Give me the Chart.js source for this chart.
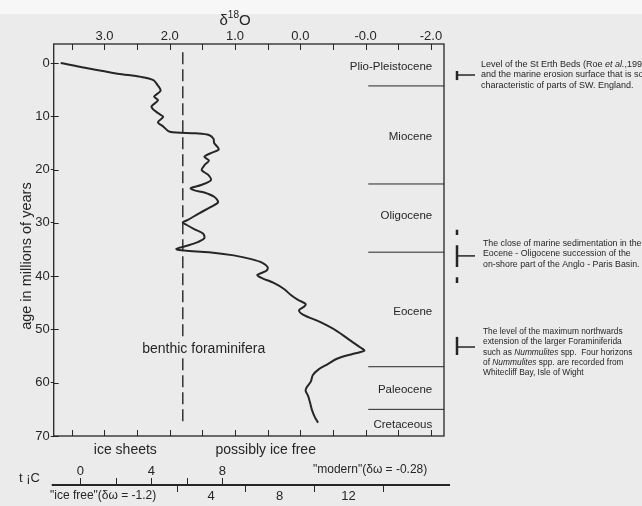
<!DOCTYPE html>
<html>
<head>
<meta charset="utf-8">
<script src="https://cdn.jsdelivr.net/npm/chart.js@4.4.1/dist/chart.umd.min.js"></script>
<style>
  html, body { margin: 0; padding: 0; background: #ebebeb; }
  #wrap { width: 642px; height: 506px; }
</style>
</head>
<body>
<div id="wrap"><canvas id="chart" width="642" height="506"></canvas></div>
<script>
// === benthic foraminifera d18O record (age in Ma, d18O per mil) ===
const ages = [0, 0.9, 2.0, 2.6, 3.2, 4.1, 5.2, 6.3, 7.0, 8.2, 9.4, 10.1, 11.1, 11.9, 12.9,
  13.2, 13.5, 14.2, 15.0, 16.2, 16.9, 17.6, 18.3, 19.2, 20.1, 21.0, 22.0, 22.9, 23.5, 23.9,
  24.3, 25.1, 26.1, 27.0, 28.2, 29.5, 29.9, 30.4, 31.2, 32.0, 32.9, 33.6, 34.3, 34.9, 35.2,
  35.5, 36.1, 36.8, 37.5, 38.3, 39.0, 39.8, 40.4, 41.3, 42.4, 43.6, 44.5, 45.2, 45.7, 46.4,
  47.2, 48.6, 50.3, 52.2, 53.4, 54.0, 54.6, 55.5, 56.5, 57.5, 58.6, 59.8, 60.8, 61.5, 62.5,
  63.8, 65.2, 66.4, 67.5];
const d18o = [3.67, 3.30, 2.80, 2.44, 2.25, 2.19, 2.14, 2.24, 2.18, 2.28, 2.18, 2.10, 2.18, 2.10, 2.00,
  1.60, 1.40, 1.33, 1.32, 1.25, 1.37, 1.47, 1.40, 1.47, 1.51, 1.41, 1.37, 1.52, 1.68, 1.62,
  1.47, 1.32, 1.26, 1.37, 1.55, 1.73, 1.80, 1.74, 1.62, 1.49, 1.47, 1.57, 1.74, 1.90, 1.78,
  1.40, 1.02, 0.75, 0.58, 0.50, 0.52, 0.66, 0.58, 0.40, 0.25, 0.14, 0.03, -0.08, -0.06, 0.02,
  -0.04, -0.30, -0.56, -0.78, -0.92, -0.98, -0.80, -0.56, -0.42, -0.28, -0.19, -0.16, -0.10, -0.08, -0.12,
  -0.15, -0.18, -0.22, -0.27];

// ice sheet threshold (dashed line)
const iceThreshold = 1.8;
const iceLineAges = [-2, 67.8];

// epochs
const epochNames = ['Plio-Pleistocene', 'Miocene', 'Oligocene', 'Eocene', 'Paleocene', 'Cretaceous'];
const epochLabelAges = [0.8, 13.9, 28.7, 46.7, 61.4, 67.9];
const epochBoundaries = [4.3, 22.7, 35.5, 57.0, 65.0];

// axis ticks
const xTickValues = [3, 2, 1, 0, -1, -2];
const xTickLabels = ['3.0', '2.0', '1.0', '0.0', '-0.0', '-2.0'];
const xMinorTicks = [3.5, 3, 2.5, 2, 1.5, 1, 0.5, 0, -0.5, -1, -1.5, -2];
const yTickValues = [0, 10, 20, 30, 40, 50, 60, 70];

// temperature scales (deg C) under the plot
const tUpperTicks = [0, 2, 4, 6, 8];
const tUpperLabels = [0, 4, 8];
const tLowerTicks = [2, 6, 10, 14];
const tLowerLabels = [4, 8, 12];
const tModernZero = 3.37;   // d18O at 0 deg C, modern ocean
const tModernSlope = 0.272; // d18O per deg C
const tIceFreeZero = 2.42;  // d18O at 0 deg C, ice free ocean
const tIceFreeSlope = 0.263;

// notes on the right
const noteAges = [2.25, 36.2, 53.3];
const noteTextAges = [2.25, 35.8, 54.3];
const noteSizes = [9, 8.8, 8.4];
const noteBars = [[[1.5, 3.2]], [[31.3, 32.3], [34.2, 38.3], [40.2, 41.3]], [[51.4, 54.8]]];
const noteLines = [
  ['Level of the St Erth Beds (Roe *et al.*,1995)', 'and the marine erosion surface that is so', 'characteristic of parts of SW. England.'],
  ['The close of marine sedimentation in the', 'Eocene - Oligocene succession of the', 'on-shore part of the Anglo - Paris Basin.'],
  ['The level of the maximum northwards', 'extension of the larger Foraminiferida', 'such as *Nummulites* spp.  Four horizons',
   'of *Nummulites* spp. are recorded from', 'Whitecliff Bay, Isle of Wight']
];

const INK = '#262626';
const FONT = '"Liberation Sans", Arial, sans-serif';

function richText(ctx, line, x, y, size) {
  let cx = x;
  line.split('*').forEach((part, i) => {
    ctx.font = (i % 2 ? 'italic ' : '') + size + 'px ' + FONT;
    ctx.fillText(part, cx, y);
    cx += ctx.measureText(part).width;
  });
}

const decor = {
  id: 'decor',
  beforeDraw(chart) {
    const { ctx, width, height } = chart;
    ctx.save();
    ctx.fillStyle = '#ebebeb';
    ctx.fillRect(0, 0, width, height);
    ctx.fillStyle = '#f7f7f7';
    ctx.fillRect(0, 0, width, 14);
    ctx.restore();
  },
  afterDraw(chart) {
    const { ctx, chartArea: a } = chart;
    const xs = chart.scales.x, ys = chart.scales.y;
    ctx.save();
    ctx.strokeStyle = INK;
    ctx.fillStyle = INK;

    // frame
    ctx.lineWidth = 1.3;
    ctx.strokeRect(a.left, a.top, a.right - a.left, a.bottom - a.top);

    // inward tick marks
    ctx.lineWidth = 1;
    ctx.beginPath();
    xMinorTicks.forEach(v => {
      const px = Math.round(xs.getPixelForValue(v)) + 0.5;
      ctx.moveTo(px, a.top); ctx.lineTo(px, a.top + 6);
      ctx.moveTo(px, a.bottom); ctx.lineTo(px, a.bottom - 6);
    });
    yTickValues.forEach(v => {
      const py = Math.round(ys.getPixelForValue(v)) + 0.5;
      ctx.moveTo(a.left, py); ctx.lineTo(a.left + 5, py);
    });
    ctx.stroke();

    // d18O title
    const tx = xs.getPixelForValue(1.0);
    ctx.textBaseline = 'alphabetic';
    ctx.textAlign = 'left';
    ctx.font = '15px ' + FONT;
    const wD = ctx.measureText('δ').width;
    ctx.font = '10px ' + FONT;
    const w18 = ctx.measureText('18').width;
    ctx.font = '15px ' + FONT;
    const wO = ctx.measureText('O').width;
    let cx = tx - (wD + w18 + wO) / 2;
    ctx.fillText('δ', cx, 25);
    ctx.font = '10px ' + FONT;
    ctx.fillText('18', cx + wD, 18);
    ctx.font = '15px ' + FONT;
    ctx.fillText('O', cx + wD + w18, 25);

    // epoch labels
    ctx.font = '11.5px ' + FONT;
    ctx.textAlign = 'right';
    ctx.textBaseline = 'middle';
    epochNames.forEach((n, i) => {
      ctx.fillText(n, xs.getPixelForValue(-2.02), ys.getPixelForValue(epochLabelAges[i]));
    });

    // benthic foraminifera label (cuts the dashed line)
    ctx.font = '14px ' + FONT;
    ctx.textAlign = 'center';
    const bx = xs.getPixelForValue(1.48), by = ys.getPixelForValue(53.7);
    const bw = ctx.measureText('benthic foraminifera').width;
    ctx.fillStyle = '#ebebeb';
    ctx.fillRect(bx - bw / 2 - 2, by - 9, bw + 4, 18);
    ctx.fillStyle = INK;
    ctx.fillText('benthic foraminifera', bx, by);

    // ice sheets / possibly ice free
    ctx.fillText('ice sheets', xs.getPixelForValue(2.68), a.bottom + 14);
    ctx.fillText('possibly ice free', xs.getPixelForValue(0.53), a.bottom + 14);

    // notes with markers on the right
    const mx = a.right + 13;
    noteAges.forEach((age, i) => {
      const my = ys.getPixelForValue(age);
      ctx.lineWidth = 1.5;
      ctx.beginPath();
      ctx.moveTo(mx, my); ctx.lineTo(mx + 18, my);
      ctx.stroke();
      ctx.lineWidth = 2.5;
      ctx.beginPath();
      noteBars[i].forEach(([a0, a1]) => {
        ctx.moveTo(mx, ys.getPixelForValue(a0)); ctx.lineTo(mx, ys.getPixelForValue(a1));
      });
      ctx.stroke();
      const lines = noteLines[i];
      const cy = ys.getPixelForValue(noteTextAges[i]);
      ctx.textAlign = 'left';
      ctx.textBaseline = 'middle';
      lines.forEach((ln, k) => {
        richText(ctx, ln, mx + (i === 0 ? 24 : 26), cy + (k - (lines.length - 1) / 2) * 10.3, noteSizes[i]);
      });
    });

    // temperature scales
    const ly = a.bottom + 49;
    const upX = t => xs.getPixelForValue(tModernZero - tModernSlope * t);
    const lowX = t => xs.getPixelForValue(tIceFreeZero - tIceFreeSlope * t);
    ctx.lineWidth = 2.2;
    ctx.beginPath();
    ctx.moveTo(a.left - 2, ly); ctx.lineTo(a.right + 6, ly);
    ctx.stroke();
    ctx.lineWidth = 1;
    ctx.beginPath();
    tUpperTicks.forEach(t => {
      const px = Math.round(upX(t)) + 0.5;
      ctx.moveTo(px, ly); ctx.lineTo(px, ly - 7);
    });
    tLowerTicks.forEach(t => {
      const px = Math.round(lowX(t)) + 0.5;
      ctx.moveTo(px, ly); ctx.lineTo(px, ly + 7);
    });
    ctx.stroke();
    ctx.font = '13px ' + FONT;
    ctx.textAlign = 'center';
    ctx.textBaseline = 'middle';
    tUpperLabels.forEach(t => ctx.fillText(String(t), upX(t), ly - 14));
    tLowerLabels.forEach(t => ctx.fillText(String(t), lowX(t), ly + 11));
    ctx.textAlign = 'left';
    ctx.fillText('t ¡C', 19, ly - 7);
    ctx.font = '12px ' + FONT;
    ctx.fillText('"modern"(δω = -0.28)', 313, ly - 15);
    ctx.fillText('"ice free"(δω = -1.2)', 50, ly + 11);
    ctx.restore();
  }
};

const datasets = [
  {
    data: ages.map((a, i) => ({ x: d18o[i], y: a })),
    borderColor: INK, borderWidth: 2, pointRadius: 0, showLine: true, tension: 0.3
  },
  {
    data: iceLineAges.map(a => ({ x: iceThreshold, y: a })),
    borderColor: INK, borderWidth: 1.4, borderDash: [12, 5], pointRadius: 0, showLine: true
  }
];
epochBoundaries.forEach(age => {
  datasets.push({
    data: [{ x: -1.04, y: age }, { x: -2.2, y: age }],
    borderColor: INK, borderWidth: 1, pointRadius: 0, showLine: true
  });
});

new Chart(document.getElementById('chart'), {
  type: 'scatter',
  data: { datasets },
  options: {
    responsive: false,
    animation: false,
    devicePixelRatio: 1,
    layout: { padding: { left: 19.75, right: 198, top: 28.4, bottom: 70 } },
    plugins: { legend: { display: false }, tooltip: { enabled: false } },
    scales: {
      x: {
        type: 'linear', position: 'top', reverse: true, min: -2.2, max: 3.777,
        afterBuildTicks: s => { s.ticks = xTickValues.map(v => ({ value: v })); },
        ticks: {
          autoSkip: false, maxRotation: 0, padding: 0, color: INK,
          font: { family: FONT, size: 13 },
          callback: (v, i) => xTickLabels[i]
        },
        grid: { drawOnChartArea: false, drawTicks: false },
        border: { display: false }
      },
      y: {
        type: 'linear', reverse: true, min: -3.57, max: 70,
        afterBuildTicks: s => { s.ticks = yTickValues.map(v => ({ value: v })); },
        ticks: { autoSkip: false, padding: 1, color: INK, font: { family: FONT, size: 13 } },
        grid: { drawOnChartArea: false, drawTicks: true, tickLength: 3, color: INK },
        border: { display: false },
        title: {
          display: true, text: 'age in millions of years        ', color: INK,
          font: { family: FONT, size: 14.5, lineHeight: 1 }, padding: { top: 0, bottom: 0 }
        }
      }
    }
  },
  plugins: [decor]
});
</script>
</body>
</html>
